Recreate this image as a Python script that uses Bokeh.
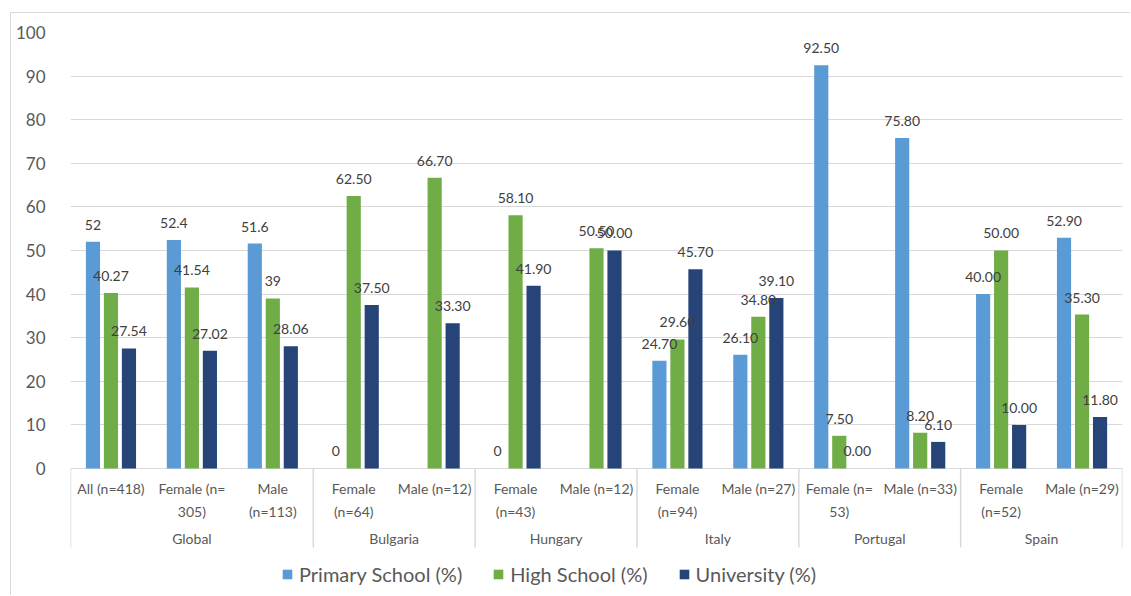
import numpy as np
from bokeh.plotting import figure
from bokeh.models import Range1d, FixedTicker, Legend, LegendItem, ColumnDataSource
from bokeh.core.properties import value
from bokeh.embed import file_html
from bokeh.resources import INLINE

# ---- data -------------------------------------------------------------
groups = ["Global", "Bulgaria", "Hungary", "Italy", "Portugal", "Spain"]
group_sizes = [3, 2, 2, 2, 2, 2]
subgroups = [
    "All (n=418)", "Female (n=\n305)", "Male\n(n=113)",
    "Female\n(n=64)", "Male (n=12)",
    "Female\n(n=43)", "Male (n=12)",
    "Female\n(n=94)", "Male (n=27)",
    "Female (n=\n53)", "Male (n=33)",
    "Female\n(n=52)", "Male (n=29)",
]
nan = float("nan")
primary = [52, 52.4, 51.6, 0, nan, 0, nan, 24.70, 26.10, 92.50, 75.80, 40.00, 52.90]
high = [40.27, 41.54, 39, 62.50, 66.70, 58.10, 50.50, 29.60, 34.80, 7.50, 8.20, 50.00, 35.30]
univ = [27.54, 27.02, 28.06, 37.50, 33.30, 41.90, 50.00, 45.70, 39.10, 0.00, 6.10, 10.00, 11.80]

# number format of each data label ("g" = general, ".2f" = two decimals)
primary_fmt = ["g"] * 7 + [".2f"] * 6
high_fmt = ["g"] * 3 + [".2f"] * 10
univ_fmt = ["g"] * 3 + [".2f"] * 10

series_names = ["Primary School (%)", "High School (%)", "University (%)"]
series_colors = ["#5B9BD5", "#70AD47", "#264478"]

FONT = "Lato"
TEXT_GREY = "#595959"
GRID_GREY = "#d9d9d9"

# ---- figure -----------------------------------------------------------
n = len(subgroups)
centers = np.arange(n) + 0.5

p = figure(width=1120, height=583, output_backend="svg", toolbar_location=None,
           x_range=Range1d(0, n), y_range=Range1d(-29.36, 100),
           min_border_left=59, min_border_right=9, min_border_top=19,
           min_border_bottom=0)
# light chart-area frame on the top and left edges
p.margin = (12, 0, 0, 10)
p.styles = {"border-top": "1px solid #d9d9d9", "border-left": "1px solid #d9d9d9"}
p.outline_line_color = None
p.background_fill_color = "white"
p.border_fill_color = "white"
p.xaxis.visible = False
p.xgrid.visible = False

yax = p.yaxis[0]
yax.ticker = FixedTicker(ticks=list(range(0, 101, 10)))
yax.axis_line_color = None
yax.major_tick_line_color = None
yax.minor_tick_line_color = None
yax.major_label_text_font = FONT
yax.major_label_text_font_size = "17px"
yax.major_label_text_color = TEXT_GREY
yax.major_label_standoff = 19
p.ygrid.grid_line_color = GRID_GREY
p.ygrid.grid_line_width = 1

# ---- bars ----------------------------------------------------------------
offset = 0.2225
bar_w = 0.175
all_vals = [primary, high, univ]
all_fmts = [primary_fmt, high_fmt, univ_fmt]
renderers = []
for k, (vals, color) in enumerate(zip(all_vals, series_colors)):
    xs = centers + (k - 1) * offset
    r = p.vbar(x=xs, top=vals, width=bar_w, bottom=0, fill_color=color,
               line_color=None)
    renderers.append(r)

# ---- data labels (drawn above all bars) ------------------------------------
for k, (vals, fmts) in enumerate(zip(all_vals, all_fmts)):
    xs = centers + (k - 1) * offset
    keep = [i for i, v in enumerate(vals) if not np.isnan(v)]
    lab = ColumnDataSource(dict(
        x=[xs[i] for i in keep],
        y=[vals[i] for i in keep],
        t=[format(vals[i], fmts[i]) for i in keep],
    ))
    p.text(x="x", y="y", text="t", source=lab, text_align="center",
           text_baseline="alphabetic", y_offset=-17,
           text_font=value(FONT), text_font_size="14px", text_color="#404040")

# ---- two-level category axis -------------------------------------------
bounds = np.concatenate([[0], np.cumsum(group_sizes)])
p.segment(x0=bounds, y0=[0] * len(bounds), x1=bounds, y1=[-18.1] * len(bounds),
          line_color=GRID_GREY, line_width=1.5)
p.text(x=centers, y=[-2.6] * n, text=subgroups, text_align="center",
       text_baseline="top", text_line_height=1.35,
       text_font=value(FONT), text_font_size="14px", text_color=TEXT_GREY)
gcenters = (bounds[:-1] + bounds[1:]) / 2
p.text(x=gcenters, y=[-16.06] * len(groups), text=groups, text_align="center",
       text_baseline="middle",
       text_font=value(FONT), text_font_size="14px", text_color=TEXT_GREY)

# ---- legend ------------------------------------------------------------
legend = Legend(
    items=[LegendItem(label=nm, renderers=[r]) for nm, r in zip(series_names, renderers)],
    orientation="horizontal", location=(211, 10),
    glyph_width=12, glyph_height=12, label_standoff=6, spacing=30,
    padding=0, margin=0, border_line_color=None, background_fill_alpha=0,
    label_text_font=FONT, label_text_font_size="20px", label_text_color=TEXT_GREY,
    label_height=20,
)
p.add_layout(legend)

open("out.html", "w").write(file_html(p, INLINE))
